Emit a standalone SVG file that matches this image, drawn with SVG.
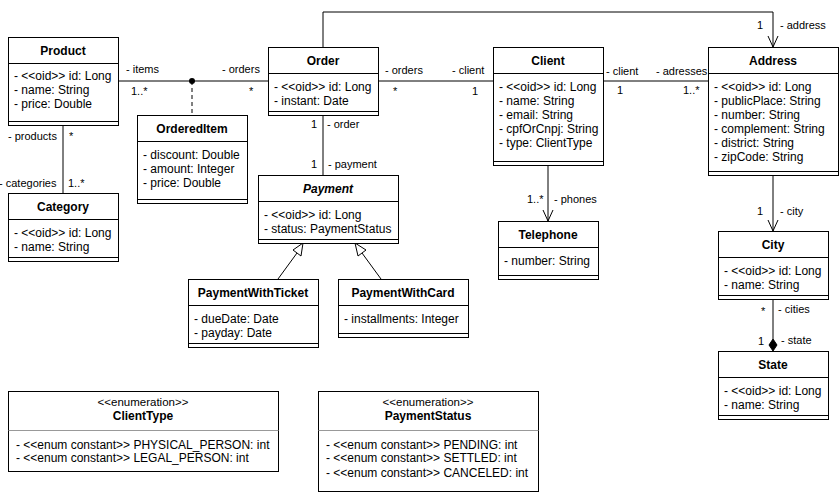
<svg xmlns="http://www.w3.org/2000/svg" width="839" height="492" viewBox="0 0 839 492">
<style>
.bx{fill:#fff;stroke:#000;stroke-width:1}
.sep{stroke:#000;stroke-width:1}
.gsep{stroke:#999;stroke-width:1}
.ln{fill:none;stroke:#000;stroke-width:1}
text{font-family:"Liberation Sans",Arial,sans-serif;font-size:12px;fill:#000}
.ti{font-weight:bold;text-anchor:middle}
.it{font-style:italic}
.lb{font-size:11px}
.c{text-anchor:middle;font-size:11.5px}
</style>
<rect width="839" height="492" fill="#fff"/>
<g id="connectors">
  <path class="ln" d="M118,81 H268"/>
  <circle cx="192" cy="81" r="3" fill="#000"/>
  <path class="ln" d="M192,81 V115" stroke-dasharray="4,3"/>
  <path class="ln" d="M63,125 V193"/>
  <path class="ln" d="M378,81 H493"/>
  <path class="ln" d="M603,81 H708"/>
  <path class="ln" d="M323,47 V12 H773 V47"/>
  <path class="ln" d="M768,36 L773,47 L778,36"/>
  <path class="ln" d="M323,115 V175"/>
  <path class="ln" d="M548,165 V221"/>
  <path class="ln" d="M543,210 L548,221 L553,210"/>
  <path class="ln" d="M773,175 V231"/>
  <path class="ln" d="M768,220 L773,231 L778,220"/>
  <path class="ln" d="M773,299 V339"/>
  <path d="M773,351 L777,345 L773,339 L769,345 Z" fill="#000" stroke="#000"/>
  <path class="ln" d="M278,279 L297,253"/>
  <path d="M303,243 L293,250 L301,256 Z" fill="#fff" stroke="#000"/>
  <path class="ln" d="M381,279 L362,253"/>
  <path d="M355,243 L358,256 L366,250 Z" fill="#fff" stroke="#000"/>
  <text class="lb" x="126" y="73">- items</text>
  <text class="lb" x="131" y="95">1..*</text>
  <text class="lb" x="222" y="73">- orders</text>
  <text class="lb" x="249" y="95">*</text>
  <text class="lb" x="8" y="140">- products</text>
  <text class="lb" x="69" y="140">*</text>
  <text class="lb" x="-1" y="187">- categories</text>
  <text class="lb" x="68" y="187">1..*</text>
  <text class="lb" x="385" y="74">- orders</text>
  <text class="lb" x="393" y="95">*</text>
  <text class="lb" x="452" y="74">- client</text>
  <text class="lb" x="472" y="95">1</text>
  <text class="lb" x="606" y="75">- client</text>
  <text class="lb" x="617" y="94">1</text>
  <text class="lb" x="656" y="75">- adresses</text>
  <text class="lb" x="683" y="94">1..*</text>
  <text class="lb" x="757" y="29">1</text>
  <text class="lb" x="780" y="29">- address</text>
  <text class="lb" x="311" y="128">1</text>
  <text class="lb" x="327" y="128">- order</text>
  <text class="lb" x="311" y="168">1</text>
  <text class="lb" x="328" y="168">- payment</text>
  <text class="lb" x="527" y="203">1..*</text>
  <text class="lb" x="554" y="203">- phones</text>
  <text class="lb" x="757" y="215">1</text>
  <text class="lb" x="780" y="215">- city</text>
  <text class="lb" x="761" y="315">*</text>
  <text class="lb" x="778" y="313">- cities</text>
  <text class="lb" x="758" y="345">1</text>
  <text class="lb" x="781" y="344">- state</text>
</g>
<g id="Product">
  <rect class="bx" x="8.5" y="37.5" width="110" height="88"/>
  <line class="sep" x1="8.5" y1="63.5" x2="118.5" y2="63.5"/>
  <line class="sep" x1="8.5" y1="121.5" x2="118.5" y2="121.5"/>
  <text class="ti" x="63" y="55">Product</text>
  <text x="14" y="80">- &lt;&lt;oid&gt;&gt; id: Long</text>
  <text x="14" y="94">- name: String</text>
  <text x="14" y="108">- price: Double</text>
</g>
<g id="Category">
  <rect class="bx" x="8.5" y="193.5" width="110" height="68"/>
  <line class="sep" x1="8.5" y1="219.5" x2="118.5" y2="219.5"/>
  <line class="sep" x1="8.5" y1="257.5" x2="118.5" y2="257.5"/>
  <text class="ti" x="63" y="211">Category</text>
  <text x="14" y="237">- &lt;&lt;oid&gt;&gt; id: Long</text>
  <text x="14" y="251">- name: String</text>
</g>
<g id="OrderedItem">
  <rect class="bx" x="137.5" y="115.5" width="110" height="88"/>
  <line class="sep" x1="137.5" y1="141.5" x2="247.5" y2="141.5"/>
  <line class="sep" x1="137.5" y1="199.5" x2="247.5" y2="199.5"/>
  <text class="ti" x="192" y="133">OrderedItem</text>
  <text x="143" y="159">- discount: Double</text>
  <text x="143" y="173">- amount: Integer</text>
  <text x="143" y="187">- price: Double</text>
</g>
<g id="Order">
  <rect class="bx" x="268.5" y="47.5" width="110" height="68"/>
  <line class="sep" x1="268.5" y1="73.5" x2="378.5" y2="73.5"/>
  <line class="sep" x1="268.5" y1="111.5" x2="378.5" y2="111.5"/>
  <text class="ti" x="323" y="65">Order</text>
  <text x="274" y="91">- &lt;&lt;oid&gt;&gt; id: Long</text>
  <text x="274" y="105">- instant: Date</text>
</g>
<g id="Payment">
  <rect class="bx" x="258.5" y="175.5" width="140" height="68"/>
  <line class="sep" x1="258.5" y1="201.5" x2="398.5" y2="201.5"/>
  <line class="sep" x1="258.5" y1="239.5" x2="398.5" y2="239.5"/>
  <text class="ti it" x="328" y="193">Payment</text>
  <text x="264" y="219">- &lt;&lt;oid&gt;&gt; id: Long</text>
  <text x="264" y="233">- status: PaymentStatus</text>
</g>
<g id="Client">
  <rect class="bx" x="493.5" y="47.5" width="110" height="118"/>
  <line class="sep" x1="493.5" y1="73.5" x2="603.5" y2="73.5"/>
  <line class="sep" x1="493.5" y1="161.5" x2="603.5" y2="161.5"/>
  <text class="ti" x="548" y="65">Client</text>
  <text x="499" y="91">- &lt;&lt;oid&gt;&gt; id: Long</text>
  <text x="499" y="105">- name: String</text>
  <text x="499" y="119">- email: String</text>
  <text x="499" y="133">- cpfOrCnpj: String</text>
  <text x="499" y="147">- type: ClientType</text>
</g>
<g id="Telephone">
  <rect class="bx" x="498.5" y="221.5" width="100" height="58"/>
  <line class="sep" x1="498.5" y1="247.5" x2="598.5" y2="247.5"/>
  <line class="sep" x1="498.5" y1="275.5" x2="598.5" y2="275.5"/>
  <text class="ti" x="548" y="239">Telephone</text>
  <text x="504" y="265">- number: String</text>
</g>
<g id="Address">
  <rect class="bx" x="708.5" y="47.5" width="130" height="128"/>
  <line class="sep" x1="708.5" y1="73.5" x2="838.5" y2="73.5"/>
  <line class="sep" x1="708.5" y1="171.5" x2="838.5" y2="171.5"/>
  <text class="ti" x="773" y="65">Address</text>
  <text x="714" y="91">- &lt;&lt;oid&gt;&gt; id: Long</text>
  <text x="714" y="105">- publicPlace: String</text>
  <text x="714" y="119">- number: String</text>
  <text x="714" y="133">- complement: String</text>
  <text x="714" y="147">- district: String</text>
  <text x="714" y="161">- zipCode: String</text>
</g>
<g id="City">
  <rect class="bx" x="718.5" y="231.5" width="110" height="68"/>
  <line class="sep" x1="718.5" y1="257.5" x2="828.5" y2="257.5"/>
  <line class="sep" x1="718.5" y1="295.5" x2="828.5" y2="295.5"/>
  <text class="ti" x="773" y="249">City</text>
  <text x="724" y="275">- &lt;&lt;oid&gt;&gt; id: Long</text>
  <text x="724" y="289">- name: String</text>
</g>
<g id="State">
  <rect class="bx" x="718.5" y="351.5" width="110" height="68"/>
  <line class="sep" x1="718.5" y1="377.5" x2="828.5" y2="377.5"/>
  <line class="sep" x1="718.5" y1="415.5" x2="828.5" y2="415.5"/>
  <text class="ti" x="773" y="369">State</text>
  <text x="724" y="395">- &lt;&lt;oid&gt;&gt; id: Long</text>
  <text x="724" y="409">- name: String</text>
</g>
<g id="PaymentWithTicket">
  <rect class="bx" x="188.5" y="279.5" width="130" height="68"/>
  <line class="sep" x1="188.5" y1="305.5" x2="318.5" y2="305.5"/>
  <line class="sep" x1="188.5" y1="343.5" x2="318.5" y2="343.5"/>
  <text class="ti" x="253" y="297">PaymentWithTicket</text>
  <text x="194" y="323">- dueDate: Date</text>
  <text x="194" y="337">- payday: Date</text>
</g>
<g id="PaymentWithCard">
  <rect class="bx" x="338.5" y="279.5" width="130" height="58"/>
  <line class="sep" x1="338.5" y1="305.5" x2="468.5" y2="305.5"/>
  <line class="sep" x1="338.5" y1="333.5" x2="468.5" y2="333.5"/>
  <text class="ti" x="403" y="297">PaymentWithCard</text>
  <text x="344" y="323">- installments: Integer</text>
</g>
<g id="ClientType">
  <rect class="bx" x="8.5" y="391.5" width="270" height="80"/>
  <line class="gsep" x1="8.5" y1="430.5" x2="278.5" y2="430.5"/>
  <text class="c" x="143" y="406">&lt;&lt;enumeration&gt;&gt;</text>
  <text class="ti" x="143" y="420">ClientType</text>
  <text x="16" y="449">- &lt;&lt;enum constant&gt;&gt; PHYSICAL_PERSON: int</text>
  <text x="16" y="462">- &lt;&lt;enum constant&gt;&gt; LEGAL_PERSON: int</text>
</g>
<g id="PaymentStatus">
  <rect class="bx" x="318.5" y="391.5" width="220" height="100"/>
  <line class="gsep" x1="318.5" y1="430.5" x2="538.5" y2="430.5"/>
  <text class="c" x="428" y="406">&lt;&lt;enumeration&gt;&gt;</text>
  <text class="ti" x="428" y="420">PaymentStatus</text>
  <text x="326" y="449">- &lt;&lt;enum constant&gt;&gt; PENDING: int</text>
  <text x="326" y="462">- &lt;&lt;enum constant&gt;&gt; SETTLED: int</text>
  <text x="326" y="477">- &lt;&lt;enum constant&gt;&gt; CANCELED: int</text>
</g>
</svg>
